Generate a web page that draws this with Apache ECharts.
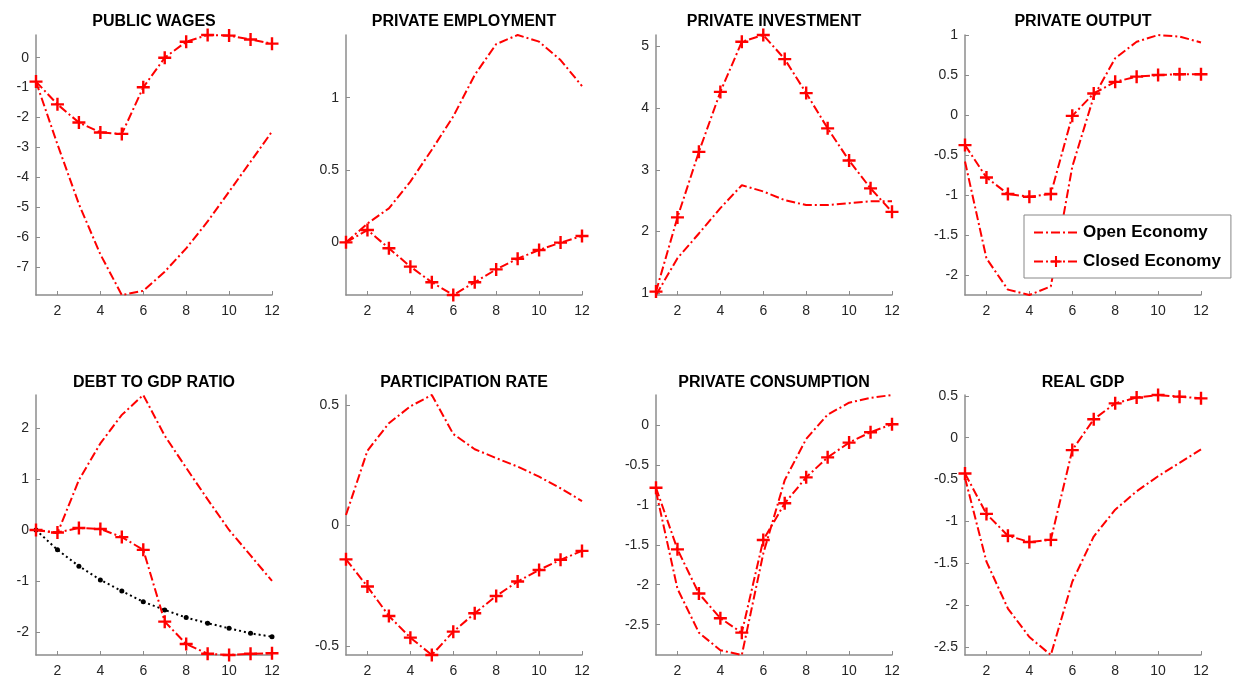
<!DOCTYPE html>
<html>
<head>
<meta charset="utf-8">
<title>Impulse responses: open vs closed economy</title>
<script src="https://cdn.jsdelivr.net/npm/echarts@6/dist/echarts.min.js"></script>
<style>
  html, body { margin: 0; padding: 0; background: #fff; }
  #chart { width: 1233px; height: 681px; }
</style>
</head>
<body>
<div id="chart"></div>
<script>
// Horizon (quarters after the shock)
const periods = [1, 2, 3, 4, 5, 6, 7, 8, 9, 10, 11, 12];
const xTicks = [2, 4, 6, 8, 10, 12];

// Responses, open economy (dash-dot) and closed economy (dash-dot with +)
const publicWagesOpen    = [-0.80, -2.90, -4.90, -6.58, -7.94, -7.80, -7.16, -6.38, -5.48, -4.48, -3.48, -2.47];
const publicWagesClosed  = [-0.80, -1.56, -2.17, -2.50, -2.55, -0.99, 0.00, 0.535, 0.76, 0.74, 0.61, 0.47];

const privEmploymentOpen   = [0.00, 0.13, 0.235, 0.42, 0.64, 0.87, 1.157, 1.37, 1.433, 1.387, 1.26, 1.08];
const privEmploymentClosed = [0.00, 0.085, -0.041, -0.168, -0.276, -0.364, -0.276, -0.187, -0.113, -0.053, -0.002, 0.044];

const privInvestmentOpen   = [0.975, 1.57, 1.97, 2.38, 2.75, 2.65, 2.51, 2.43, 2.43, 2.46, 2.49, 2.49];
const privInvestmentClosed = [1.03, 2.23, 3.29, 4.26, 5.07, 5.18, 4.79, 4.24, 3.67, 3.15, 2.70, 2.32];

const privOutputOpen   = [-0.58, -1.79, -2.18, -2.247, -2.14, -0.645, 0.23, 0.71, 0.915, 1.00, 0.98, 0.907];
const privOutputClosed = [-0.375, -0.78, -0.985, -1.02, -0.985, -0.01, 0.27, 0.415, 0.48, 0.50, 0.51, 0.51];

const debtOpen      = [0.00, -0.065, 0.98, 1.70, 2.26, 2.65, 1.85, 1.22, 0.60, 0.00, -0.50, -1.00];
const debtClosed    = [0.00, -0.05, 0.04, 0.02, -0.14, -0.39, -1.80, -2.24, -2.43, -2.455, -2.43, -2.42];
const debtBaseline  = [0.00, -0.39, -0.71, -0.98, -1.20, -1.41, -1.57, -1.72, -1.83, -1.93, -2.03, -2.095];

const participationOpen   = [0.044, 0.311, 0.425, 0.495, 0.542, 0.38, 0.317, 0.28, 0.245, 0.203, 0.155, 0.102];
const participationClosed = [-0.14, -0.253, -0.375, -0.465, -0.537, -0.44, -0.364, -0.292, -0.232, -0.184, -0.142, -0.105];

const consumptionOpen   = [-0.83, -2.05, -2.60, -2.82, -2.88, -1.61, -0.69, -0.175, 0.13, 0.28, 0.34, 0.376];
const consumptionClosed = [-0.785, -1.557, -2.11, -2.42, -2.60, -1.44, -0.98, -0.655, -0.405, -0.22, -0.09, 0.01];

const realGdpOpen   = [-0.48, -1.48, -2.04, -2.38, -2.595, -1.72, -1.18, -0.86, -0.64, -0.46, -0.30, -0.14];
const realGdpClosed = [-0.427, -0.91, -1.17, -1.245, -1.22, -0.148, 0.22, 0.41, 0.48, 0.51, 0.49, 0.47];

// Y tick labels per panel
const yTicksPublicWages    = [-7, -6, -5, -4, -3, -2, -1, 0];
const yTicksPrivEmployment = [0, 0.5, 1];
const yTicksPrivInvestment = [1, 2, 3, 4, 5];
const yTicksPrivOutput     = [-2, -1.5, -1, -0.5, 0, 0.5, 1];
const yTicksDebt           = [-2, -1, 0, 1, 2];
const yTicksParticipation  = [-0.5, 0, 0.5];
const yTicksConsumption    = [-2.5, -2, -1.5, -1, -0.5, 0];
const yTicksRealGdp        = [-2.5, -2, -1.5, -1, -0.5, 0, 0.5];

const panelTitles = ['PUBLIC WAGES', 'PRIVATE EMPLOYMENT', 'PRIVATE INVESTMENT', 'PRIVATE OUTPUT',
                     'DEBT TO GDP RATIO', 'PARTICIPATION RATE', 'PRIVATE CONSUMPTION', 'REAL GDP'];

const panels = [
  { open: publicWagesOpen,    closed: publicWagesClosed,    ticks: yTicksPublicWages },
  { open: privEmploymentOpen, closed: privEmploymentClosed, ticks: yTicksPrivEmployment },
  { open: privInvestmentOpen, closed: privInvestmentClosed, ticks: yTicksPrivInvestment },
  { open: privOutputOpen,     closed: privOutputClosed,     ticks: yTicksPrivOutput },
  { open: debtOpen,           closed: debtClosed,           ticks: yTicksDebt, baseline: debtBaseline },
  { open: participationOpen,  closed: participationClosed,  ticks: yTicksParticipation },
  { open: consumptionOpen,    closed: consumptionClosed,    ticks: yTicksConsumption },
  { open: realGdpOpen,        closed: realGdpClosed,        ticks: yTicksRealGdp }
];

// Layout of the 2 x 4 panel grid
const colLeft = [36, 346, 656, 965];
const rowTop = [35, 395];
const plotW = 236, plotH = 260;
const titleTop = [14, 375];

const FONT = '"Liberation Sans", Arial, Helvetica, sans-serif';
const RED = '#ff0000';
const AXIS = '#8c8c8c';
const LABEL = '#262626';
const dashDot = [9, 3, 2, 3];
const plusSymbol = 'path://M5.3,0H7.7V5.3H13V7.7H7.7V13H5.3V7.7H0V5.3H5.3Z';

const pairs = arr => periods.map((p, i) => [p, arr[i]]);

const grids = [], xAxes = [], yAxes = [], titles = [], series = [];

panels.forEach((pn, i) => {
  const r = Math.floor(i / 4), c = i % 4;
  grids.push({ left: colLeft[c], top: rowTop[r], width: plotW, height: plotH, containLabel: false });

  titles.push({
    text: panelTitles[i],
    left: colLeft[c] + plotW / 2,
    top: titleTop[r],
    textAlign: 'center',
    padding: 0,
    textStyle: { fontFamily: FONT, fontSize: 16, fontWeight: 'bold', color: '#000' }
  });

  // tight vertical range over everything drawn in the panel
  const all = pn.open.concat(pn.closed, pn.baseline || []);
  const yMin = Math.min(...all), yMax = Math.max(...all);

  xAxes.push({
    type: 'value', gridIndex: i, min: 1, max: 12,
    axisLine: { onZero: false, lineStyle: { color: AXIS, width: 1.5 } },
    axisTick: { inside: true, length: 4, customValues: xTicks, lineStyle: { color: AXIS, width: 1 } },
    axisLabel: { customValues: xTicks, color: LABEL, fontFamily: FONT, fontSize: 14, margin: 9 },
    splitLine: { show: false }
  });
  yAxes.push({
    type: 'value', gridIndex: i, min: yMin, max: yMax,
    axisLine: { show: true, onZero: false, lineStyle: { color: AXIS, width: 1.5 } },
    axisTick: { show: true, inside: true, length: 4, customValues: pn.ticks, lineStyle: { color: AXIS, width: 1 } },
    axisLabel: { customValues: pn.ticks, color: LABEL, fontFamily: FONT, fontSize: 14, margin: 7 },
    splitLine: { show: false }
  });

  series.push({
    name: 'Open Economy', type: 'line', xAxisIndex: i, yAxisIndex: i,
    data: pairs(pn.open), symbol: 'none',
    lineStyle: { color: RED, width: 2, type: dashDot },
    itemStyle: { color: RED }, z: 2
  });
  series.push({
    name: 'Closed Economy', type: 'line', xAxisIndex: i, yAxisIndex: i,
    data: pairs(pn.closed), symbol: plusSymbol, symbolSize: 13, showAllSymbol: true,
    lineStyle: { color: RED, width: 2, type: dashDot },
    itemStyle: { color: RED }, z: 3
  });
  if (pn.baseline) {
    series.push({
      name: 'Baseline', type: 'line', xAxisIndex: i, yAxisIndex: i,
      data: pairs(pn.baseline), symbol: 'circle', symbolSize: 5,
      lineStyle: { color: '#000', width: 2, type: [2, 3] },
      itemStyle: { color: '#000' }, z: 1
    });
  }
});

const chart = echarts.init(document.getElementById('chart'), null, { renderer: 'canvas' });
chart.setOption({
  animation: false,
  backgroundColor: '#fff',
  title: titles,
  grid: grids,
  xAxis: xAxes,
  yAxis: yAxes,
  legend: {
    data: [
      // plain dash-dot line sample, no marker
      { name: 'Open Economy', itemStyle: { color: 'rgba(0,0,0,0)', borderColor: 'rgba(0,0,0,0)', borderWidth: 0 } },
      { name: 'Closed Economy' }
    ],
    orient: 'vertical',
    left: 1024, top: 215,
    padding: [9, 10, 8, 9],
    itemWidth: 44, itemHeight: 14, itemGap: 12,
    backgroundColor: '#fff',
    borderColor: '#888', borderWidth: 1,
    selectedMode: false,
    textStyle: { fontFamily: FONT, fontSize: 17, fontWeight: 'bold', color: '#000' }
  },
  series: series
});
</script>
</body>
</html>
